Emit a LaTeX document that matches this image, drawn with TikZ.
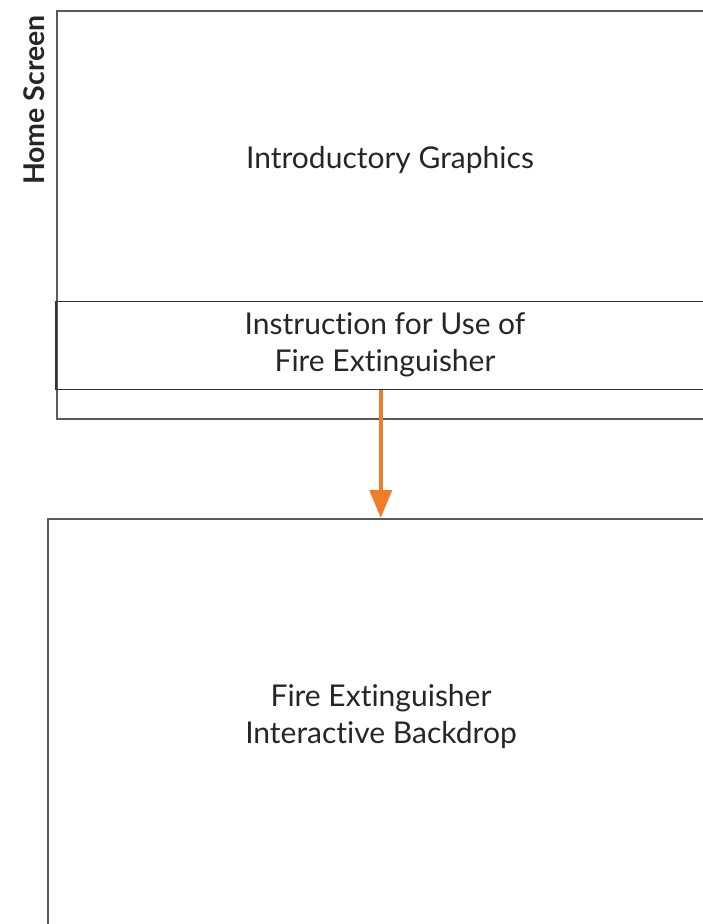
\documentclass[tikz,border=0pt]{standalone}
\usepackage{fontspec}
\setmainfont[RawFeature=-liga]{Lato}
\usetikzlibrary{arrows.meta}
\definecolor{lineg}{HTML}{5A5A5A}
\definecolor{orng}{HTML}{EF7D2B}
\tikzset{
  boxline/.style={draw=lineg, line width=1.5pt, inner sep=0pt},
  lbl/.style={font=\fontsize{30}{37}\selectfont, align=center, text=black!85},
}
\begin{document}
\begin{tikzpicture}[x=1pt,y=-1pt]
\useasboundingbox (0,0) rectangle (703,924);
\clip (0,0) rectangle (703,924);
\node[boxline, minimum width=650pt, minimum height=408pt, anchor=north west] (home) at (56,10) {};
\node[boxline, draw=black!80, minimum width=650pt, minimum height=88pt, anchor=north west] (instr) at (55,300.5) {};
\node[boxline, minimum width=666pt, minimum height=420pt, anchor=north west] (back) at (47,518) {};
\node[lbl] (intro) at (390,160) {Introductory Graphics};
\node[lbl] (itext) at (385,345) {Instruction for Use of\\Fire Extinguisher};
\node[lbl] (btext) at (381,717) {Fire Extinguisher\\Interactive Backdrop};
\node[font=\bfseries\fontsize{28.5}{30}\selectfont, rotate=90, text=black!85] (hs) at (34,100) {Home Screen};
\draw[orng, line width=4pt, -{Triangle[length=28pt,width=22pt]}] (instr.south) -- (back.north);
\end{tikzpicture}
\end{document}
